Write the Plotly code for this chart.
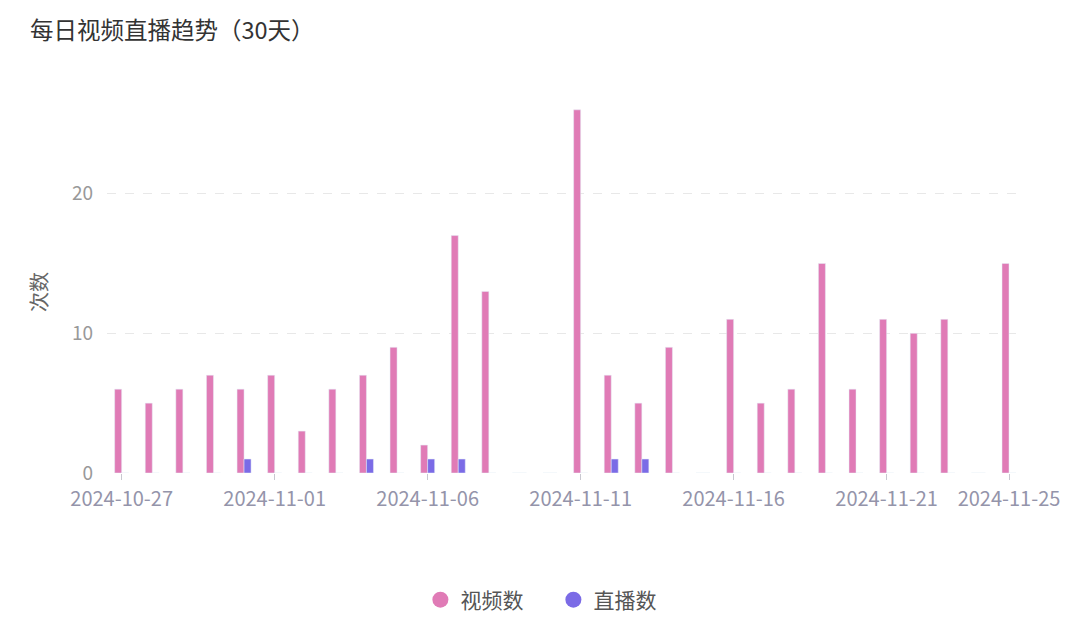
import pandas as pd
import plotly.graph_objects as go

# 30 days, 2024-10-27 .. 2024-11-25
dates = pd.date_range("2024-10-27", "2024-11-25", freq="D")

video_counts = [6, 5, 6, 7, 6, 7, 3, 6, 7, 9,
                2, 17, 13, 0, 0, 26, 7, 5, 9, 0,
                11, 5, 6, 15, 6, 11, 10, 11, 0, 15]
live_counts = [0, 0, 0, 0, 1, 0, 0, 0, 1, 0,
               1, 1, 0, 0, 0, 0, 1, 1, 0, 0,
               0, 0, 0, 0, 0, 0, 0, 0, 0, 0]

x_ticks = ["2024-10-27", "2024-11-01", "2024-11-06", "2024-11-11",
           "2024-11-16", "2024-11-21", "2024-11-25"]
y_ticks = [0, 10, 20]

PINK = "#e07bb6"
PURPLE = "#7b6be6"
FONT = "Noto Sans CJK SC"

bar_w = 0.229 * 24 * 3600 * 1000  # ms, about 7px per bar

fig = go.Figure()
fig.add_trace(go.Bar(x=dates, y=video_counts, name="视频数", marker_color=PINK,
                     width=bar_w, offset=-bar_w, showlegend=False))
fig.add_trace(go.Bar(x=dates, y=live_counts, name="直播数", marker_color=PURPLE,
                     width=bar_w, offset=0, showlegend=False))

# legend entries with round markers
for name, col in [("视频数", PINK), ("直播数", PURPLE)]:
    fig.add_trace(go.Scatter(x=[None], y=[None], mode="markers", name=name,
                             marker=dict(color=col, size=17, symbol="circle")))

fig.update_layout(
    width=1080, height=632,
    margin=dict(l=107, r=61, t=54, b=159),
    paper_bgcolor="white", plot_bgcolor="white",
    barmode="overlay",
    font=dict(family=FONT, color="#666"),
    title=dict(text="每日视频直播趋势（30天）", xref="container", yref="container",
               x=30 / 1080, xanchor="left", y=1 - 31 / 632, yanchor="middle",
               font=dict(size=23.5, color="#333", family=FONT)),
    legend=dict(orientation="h", xref="container", yref="container",
                x=0.5124, xanchor="center", y=1 - 600 / 632, yanchor="middle",
                font=dict(size=21, color="#555"), itemwidth=30, entrywidth=88),
    xaxis=dict(type="date", range=["2024-10-26 12:30", "2024-11-25 07:50"],
               tickvals=x_ticks, tickformat="%Y-%m-%d",
               showgrid=False, zeroline=False, showline=False,
               ticks="outside", ticklen=6, tickcolor="#c8c8d0",
               tickfont=dict(size=20, color="#9494aa"), ticklabelstandoff=2),
    yaxis=dict(range=[0, 30], tickvals=y_ticks, showgrid=True,
               gridcolor="#e8e8e8", griddash="dash", gridwidth=1,
               zeroline=False, showline=False,
               tickfont=dict(size=19, color="#999"), ticklabelstandoff=13),
    annotations=[dict(text="次数", xref="paper", yref="paper",
                      x=(38 - 107) / 912, y=(473 - 292) / 419,
                      xanchor="center", yanchor="middle",
                      showarrow=False, textangle=-90,
                      font=dict(size=20, color="#666"))],
)

# drop the default 8px page margin so the figure sits at the window corner
fig.write_html("out.html", config={"displayModeBar": False},
               post_script="document.body.style.margin='0';")
